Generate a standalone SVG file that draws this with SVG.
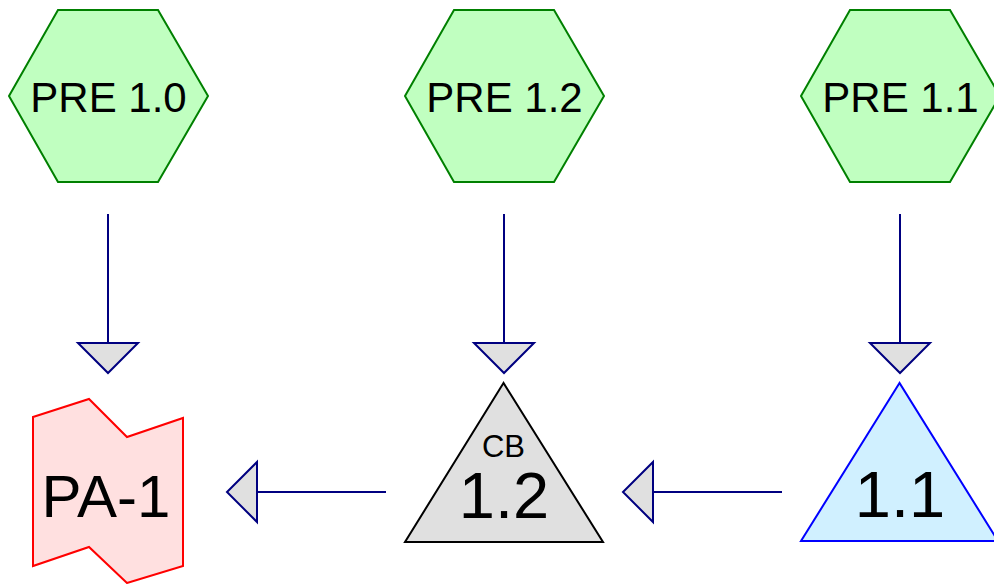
<svg xmlns="http://www.w3.org/2000/svg" width="994" height="584" viewBox="0 0 994 584">
<style>
.hex{fill:#c0ffc0;stroke:#008000;stroke-width:2}
.t{font-family:"Liberation Sans",Arial,sans-serif;fill:#000;text-anchor:middle}
.ht{font-size:42px}
.conn line{stroke:#000080;stroke-width:2}
.conn polygon{fill:#e0e0e0;stroke:#000080;stroke-width:2;stroke-linejoin:miter}
</style>
<rect width="994" height="584" fill="#fff"/>
<g id="pre10"><polygon class="hex" points="9,96 58,10 158,10 208,96 158,182 58,182"/><text class="t ht" x="108.5" y="112">PRE 1.0</text></g>
<g id="pre12"><polygon class="hex" points="405,96 454,10 554,10 604,96 554,182 454,182"/><text class="t ht" x="504.5" y="112">PRE 1.2</text></g>
<g id="pre11"><polygon class="hex" points="801,96 850,10 950,10 1000,96 950,182 850,182"/><text class="t ht" x="900.5" y="112">PRE 1.1</text></g>
<g id="pa1"><polygon points="33,417 89,399 127,437 183,418 183,566 127,583 89,547 33,566" fill="#ffe0e0" stroke="#ff0000" stroke-width="2"/><text class="t" x="106" y="517" font-size="60">PA-1</text></g>
<g id="cb12"><polygon points="503.5,383 405,542 603,542" fill="#e0e0e0" stroke="#000" stroke-width="2"/><text class="t" x="503.5" y="457" font-size="31">CB</text><text class="t" x="504" y="518" font-size="65">1.2</text></g>
<g id="n11"><polygon points="899.5,383 801,541 998,541" fill="#d0f0ff" stroke="#0000ff" stroke-width="2"/><text class="t" x="900" y="517" font-size="65">1.1</text></g>
<g class="conn" id="connectors">
<line x1="108" y1="214" x2="108" y2="343"/><polygon points="78,343 138,343 108,373"/>
<line x1="504" y1="214" x2="504" y2="343"/><polygon points="474,343 534,343 504,373"/>
<line x1="900" y1="214" x2="900" y2="343"/><polygon points="870,343 930,343 900,373"/>
<line x1="386" y1="492" x2="257" y2="492"/><polygon points="257,462 257,522 227,492"/>
<line x1="782" y1="492" x2="653" y2="492"/><polygon points="653,462 653,522 623,492"/>
</g>
</svg>
